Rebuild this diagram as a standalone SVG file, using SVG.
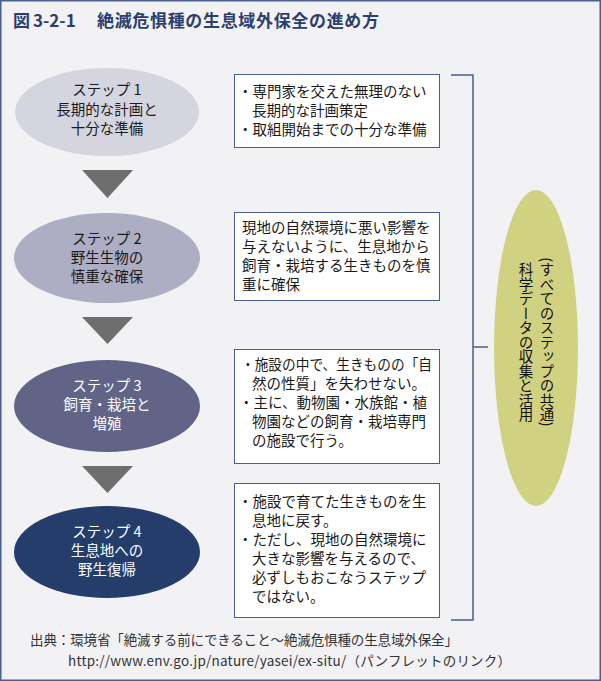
<svg xmlns="http://www.w3.org/2000/svg" width="601" height="681" viewBox="0 0 601 681">
<style>
text{font-family:"Noto Sans CJK JP","Noto Sans",sans-serif;}
.title{font-size:17px;font-weight:bold;fill:#2b3f6e;}
.et{font-size:14.5px;text-anchor:middle;fill:#1a1a1a;}
.ew{font-size:14.5px;text-anchor:middle;fill:#ffffff;}
.bt{font-size:14.5px;fill:#1a1a1a;}
.box{fill:#ffffff;stroke:#4a5f8f;stroke-width:1;}
.arr{fill:#6e6e6e;}
.br{fill:none;stroke:#4a5f8f;stroke-width:1.5;}
.vt{font-size:14.5px;fill:#111;writing-mode:vertical-rl;text-anchor:middle;}
.ft{font-size:13.5px;fill:#333;}
</style>
<rect x="0.75" y="0.75" width="599.5" height="679.5" fill="#f2f2f5" stroke="#4a5f8f" stroke-width="1.5"/>
<g id="title">
<text class="title" y="27"><tspan x="13">図</tspan><tspan x="33">3-2-1</tspan><tspan x="97" textLength="282">絶滅危惧種の生息域外保全の進め方</tspan></text>
</g>
<g id="connectors">
<polygon class="arr" points="82,170 133,170 107.5,198"/>
<polygon class="arr" points="82,317 133,317 107.5,344"/>
<polygon class="arr" points="82,466 133,466 107.5,493"/>
<polyline class="br" points="451,75 473,75 473,620 451,620"/>
<line class="br" x1="473" y1="347" x2="488" y2="347"/>
</g>
<g id="step1">
<ellipse cx="107" cy="112" rx="92" ry="44" fill="#d5d5e0"/>
<text class="et" x="107" y="95">ステップ 1</text>
<text class="et" x="107" y="115">長期的な計画と</text>
<text class="et" x="107" y="134">十分な準備</text>
</g>
<g id="step2">
<ellipse cx="107" cy="258" rx="93" ry="45" fill="#adadc3"/>
<text class="et" x="107" y="244">ステップ 2</text>
<text class="et" x="107" y="263">野生生物の</text>
<text class="et" x="107" y="282">慎重な確保</text>
</g>
<g id="step3">
<ellipse cx="107" cy="406" rx="93" ry="46" fill="#626487"/>
<text class="ew" x="107" y="391">ステップ 3</text>
<text class="ew" x="107" y="410">飼育・栽培と</text>
<text class="ew" x="107" y="429">増殖</text>
</g>
<g id="step4">
<ellipse cx="107" cy="552" rx="93" ry="46" fill="#243d6a"/>
<text class="ew" x="107" y="537">ステップ 4</text>
<text class="ew" x="107" y="556">生息地への</text>
<text class="ew" x="107" y="575">野生復帰</text>
</g>
<g id="box1">
<rect class="box" x="234.5" y="74.5" width="205" height="73"/>
<text class="bt" x="238" y="97">・専門家を交えた無理のない</text>
<text class="bt" x="252" y="116">長期的な計画策定</text>
<text class="bt" x="238" y="135">・取組開始までの十分な準備</text>
</g>
<g id="box2">
<rect class="box" x="234.5" y="212.5" width="205" height="88"/>
<text class="bt" x="242" y="233">現地の自然環境に悪い影響を</text>
<text class="bt" x="242" y="252">与えないように、生息地から</text>
<text class="bt" x="242" y="271">飼育・栽培する生きものを慎</text>
<text class="bt" x="242" y="290">重に確保</text>
</g>
<g id="box3">
<rect class="box" x="234.5" y="349.5" width="205" height="114"/>
<text class="bt" x="241" y="370" textLength="191" lengthAdjust="spacingAndGlyphs">・施設の中で、生きものの「自</text>
<text class="bt" x="252" y="389">然の性質」を失わせない。</text>
<text class="bt" x="239" y="408">・主に、動物園・水族館・植</text>
<text class="bt" x="252" y="427">物園などの飼育・栽培専門</text>
<text class="bt" x="252" y="446">の施設で行う。</text>
</g>
<g id="box4">
<rect class="box" x="234.5" y="483.5" width="205" height="134"/>
<text class="bt" x="238" y="507">・施設で育てた生きものを生</text>
<text class="bt" x="252" y="526">息地に戻す。</text>
<text class="bt" x="238" y="545">・ただし、現地の自然環境に</text>
<text class="bt" x="252" y="564">大きな影響を与えるので、</text>
<text class="bt" x="252" y="583">必ずしもおこなうステップ</text>
<text class="bt" x="252" y="602">ではない。</text>
</g>
<g id="common">
<ellipse cx="536" cy="348" rx="42" ry="158" fill="#d0d282"/>
<text class="vt" x="547" y="342">(すべてのステップの共通)</text>
<text class="vt" x="526" y="342">科学データの収集と活用</text>
</g>
<g id="footer">
<text class="ft" x="30" y="645" textLength="428">出典：環境省「絶滅する前にできること～絶滅危惧種の生息域外保全」</text>
<text class="ft" x="68" y="666" textLength="443">http://www.env.go.jp/nature/yasei/ex-situ/（パンフレットのリンク）</text>
</g>
</svg>
